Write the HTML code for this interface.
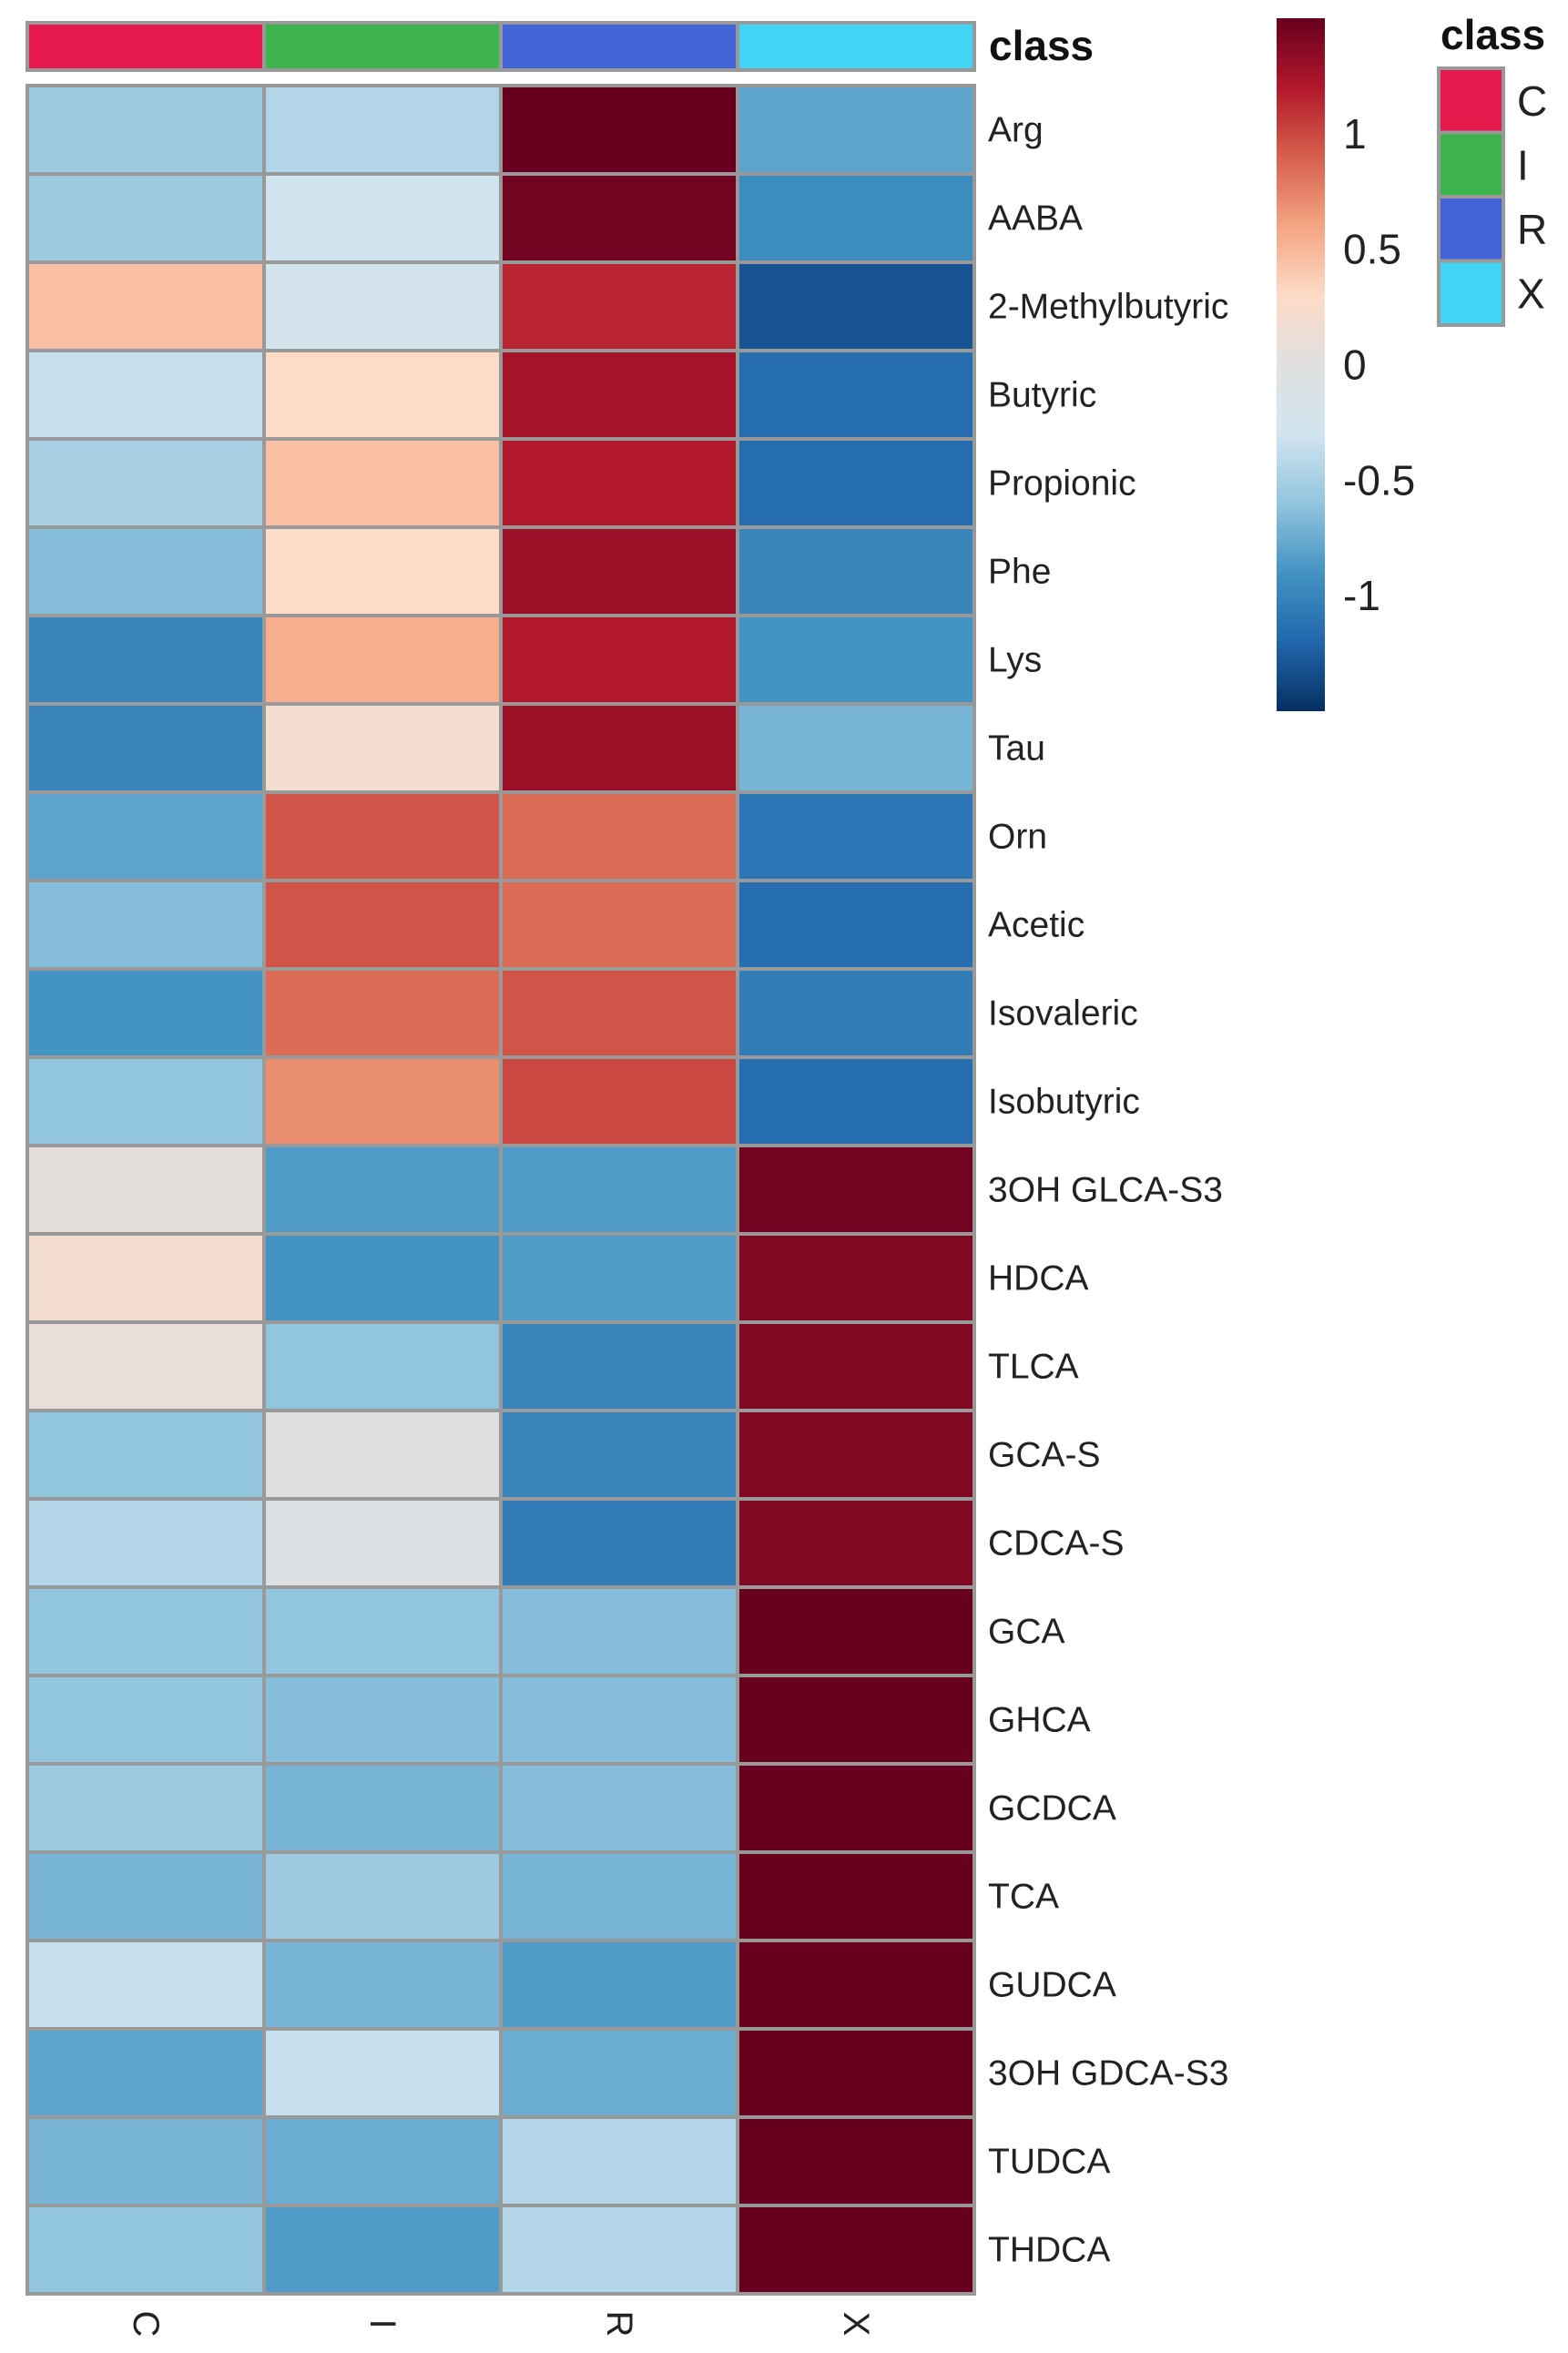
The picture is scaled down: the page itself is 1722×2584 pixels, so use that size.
<!DOCTYPE html>
<html><head><meta charset="utf-8">
<style>
html,body{margin:0;padding:0;background:#fff;}
svg{display:block;font-family:"Liberation Sans",sans-serif;}
</style></head>
<body>
<svg id="chart" width="1722" height="2584" viewBox="0 0 1722 2584" xmlns="http://www.w3.org/2000/svg">
<defs>
<linearGradient id="cbar" x1="0" y1="1" x2="0" y2="0">
<stop offset="0" stop-color="#053061"/><stop offset="0.1" stop-color="#2166ac"/><stop offset="0.2" stop-color="#4393c3"/><stop offset="0.3" stop-color="#92c5de"/><stop offset="0.4" stop-color="#d1e5f0"/><stop offset="0.5" stop-color="#e0e0e0"/><stop offset="0.6" stop-color="#fddbc7"/><stop offset="0.7" stop-color="#f4a582"/><stop offset="0.8" stop-color="#d6604d"/><stop offset="0.9" stop-color="#b2182b"/><stop offset="1" stop-color="#67001f"/>
</linearGradient>
</defs>
<g id="annot"></g>
<g id="cells"></g>
<g id="rowlabels"></g>
<g id="collabels"></g>
<text x="1086" y="66" font-size="46" font-weight="bold" fill="#111">class</text>
<g>
<rect x="1402" y="20" width="53" height="761" fill="url(#cbar)"/>
<g id="cticks"></g>
</g>
<g>
<text x="1582" y="54" font-size="46" font-weight="bold" fill="#111">class</text>
<g id="classleg"></g>
</g>
</svg>
<script>
const rows = ["Arg","AABA","2-Methylbutyric","Butyric","Propionic","Phe","Lys","Tau","Orn","Acetic","Isovaleric","Isobutyric","3OH GLCA-S3","HDCA","TLCA","GCA-S","CDCA-S","GCA","GHCA","GCDCA","TCA","GUDCA","3OH GDCA-S3","TUDCA","THDCA"];
const cols = ["C","I","R","X"];
const classColors = ["#e5194b","#3cb44b","#4363d8","#42d4f4"];
const valsC = [-0.55,-0.55,0.45,-0.35,-0.5,-0.65,-1.0,-1.0,-0.8,-0.65,-0.9,-0.6,0.05,0.2,0.08,-0.6,-0.45,-0.6,-0.6,-0.55,-0.7,-0.35,-0.8,-0.7,-0.6];
const valsI = [-0.45,-0.3,-0.25,0.3,0.45,0.3,0.55,0.2,0.95,0.95,0.85,0.7,-0.85,-0.9,-0.6,0.0,-0.05,-0.6,-0.65,-0.7,-0.55,-0.7,-0.35,-0.75,-0.85];
const valsR = [1.5,1.45,1.15,1.25,1.2,1.3,1.2,1.3,0.85,0.85,0.95,1.0,-0.85,-0.85,-1.0,-1.0,-1.05,-0.65,-0.65,-0.65,-0.7,-0.85,-0.75,-0.45,-0.45];
const valsX = [-0.8,-0.95,-1.3,-1.15,-1.15,-1.0,-0.9,-0.7,-1.1,-1.15,-1.05,-1.15,1.45,1.4,1.4,1.4,1.4,1.5,1.5,1.5,1.5,1.5,1.5,1.5,1.5];
const series = [valsC,valsI,valsR,valsX];
const scaleTicks = [1,0.5,0,-0.5,-1];
const scaleTickLabels = ["1","0.5","0","-0.5","-1"];

const NS="http://www.w3.org/2000/svg";
const X0=30, CW=260, Y0=94, RH=97, AY=25, AH=52;
const CB_TOP=20, CB_BOT=781, VMIN=-1.5, VMAX=1.5;
function xPos(i){return X0+i*CW;}
function yPos(j){return Y0+j*RH;}
function cbY(v){return CB_BOT-(v-VMIN)/(VMAX-VMIN)*(CB_BOT-CB_TOP);}
const stops=[[5,48,97],[33,102,172],[67,147,195],[146,197,222],[209,229,240],[224,224,224],[253,219,199],[244,165,130],[214,96,77],[178,24,43],[103,0,31]];
function color(v){
  let t=(Math.max(VMIN,Math.min(VMAX,v))-VMIN)/(VMAX-VMIN)*10;
  let i=Math.min(9,Math.floor(t)), f=t-i;
  const a=stops[i], b=stops[i+1];
  return "rgb("+a.map((c,k)=>Math.round(c+(b[k]-c)*f)).join(",")+")";
}
function mk(tag,attrs,parent){const e=document.createElementNS(NS,tag);for(const k in attrs)e.setAttribute(k,attrs[k]);parent.appendChild(e);return e;}

const annot=document.getElementById("annot");
cols.forEach((c,i)=>{
  const r=mk("rect",{x:xPos(i),y:AY,width:CW,height:AH,fill:classColors[i],stroke:"#999",'stroke-width':4},annot);
  
  
});
const cells=document.getElementById("cells");
const rl=document.getElementById("rowlabels");
rows.forEach((name,j)=>{
  series.forEach((s,i)=>{
    const r=mk("rect",{x:xPos(i),y:yPos(j),width:CW,height:RH,fill:color(s[j]),stroke:"#999",'stroke-width':4},cells);
    
    
  });
  const t=mk("text",{x:1085,y:yPos(j)+RH/2+13,'font-size':39,fill:"#222"},rl);
  t.textContent=name;
  
  
});
const cl=document.getElementById("collabels");
cols.forEach((c,i)=>{
  const cx=xPos(i)+CW/2, cy=2552;
  const t=mk("text",{x:cx,y:cy,'font-size':40,fill:"#222",'text-anchor':'middle','dominant-baseline':'central',transform:"rotate(90 "+cx+" "+cy+")"},cl);
  t.textContent=c;
  
  
});
const ct=document.getElementById("cticks");
scaleTicks.forEach((v,k)=>{
  const t=mk("text",{x:1475,y:cbY(v)+16,'font-size':46,fill:"#222"},ct);
  t.textContent=scaleTickLabels[k];
  
  
});
const cg=document.getElementById("classleg");
cols.forEach((c,i)=>{
  const r=mk("rect",{x:1580,y:75+i*70.5,width:71,height:70.5,fill:classColors[i],stroke:"#999",'stroke-width':4},cg);
  
  
  const t=mk("text",{x:1666,y:75+i*70.5+52,'font-size':46,fill:"#222"},cg);
  t.textContent=c;
  
  
});
</script>
</body></html>
